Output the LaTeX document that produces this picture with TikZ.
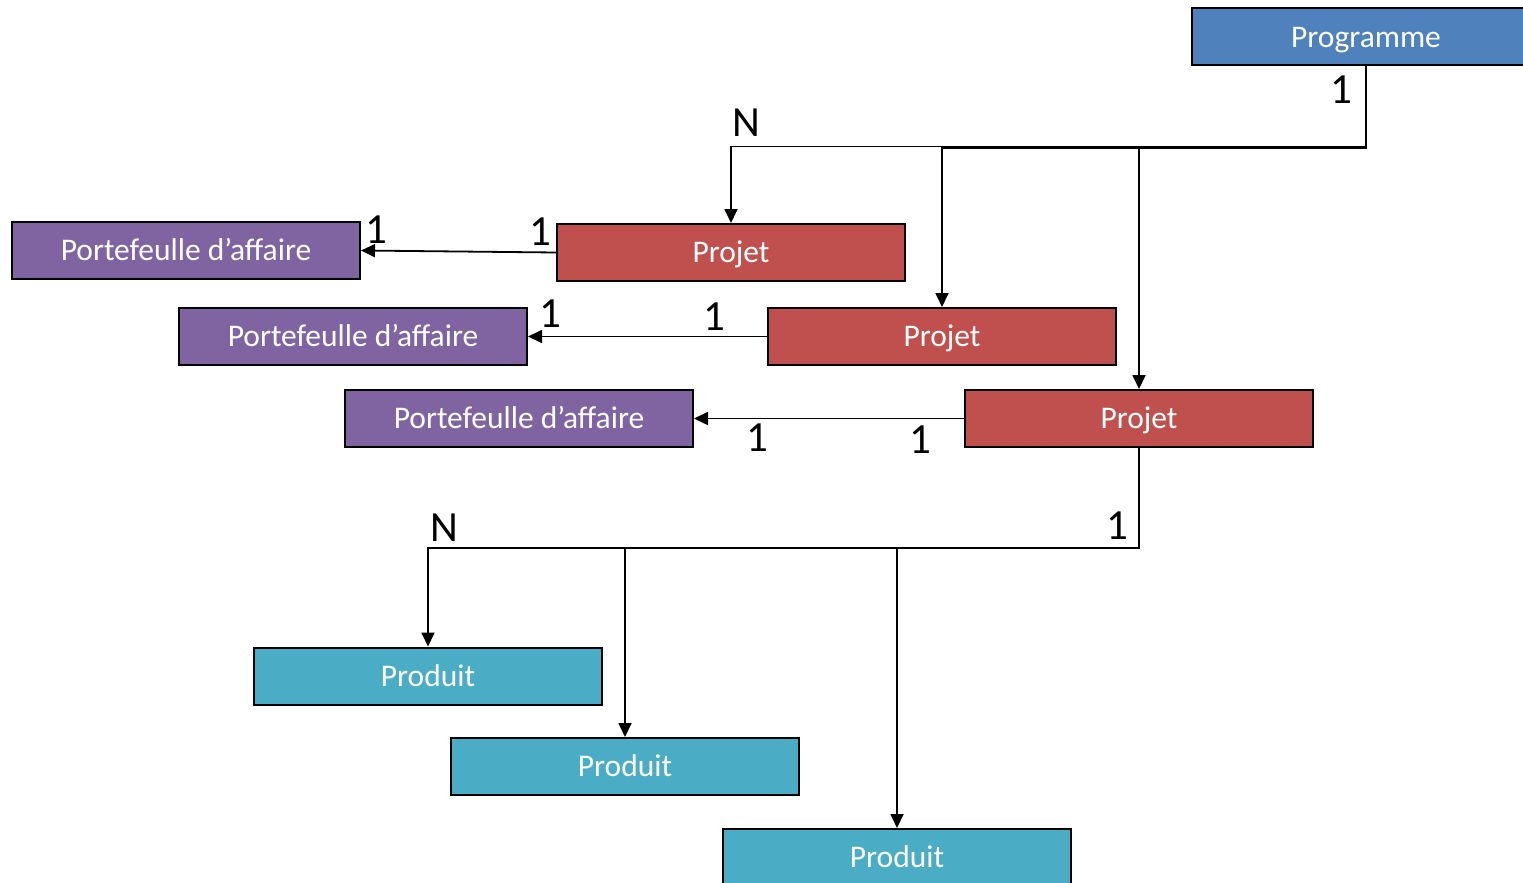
\documentclass[tikz,border=0pt]{standalone}
\usepackage{fontspec}
\setmainfont{Carlito}
\usetikzlibrary{arrows.meta}
\definecolor{progblue}{HTML}{4F81BD}
\definecolor{projred}{HTML}{C0504D}
\definecolor{portpurple}{HTML}{8064A2}
\definecolor{prodteal}{HTML}{4BACC6}
\tikzset{
  box/.style={draw=black, line width=2pt, minimum width=348pt, minimum height=57pt,
    inner sep=0pt, text=white, font=\fontsize{31.5}{36}\selectfont,
    text height=20.5pt, text depth=0pt, anchor=center},
  progbox/.style={box, fill=progblue},
  projbox/.style={box, fill=projred},
  portbox/.style={box, fill=portpurple},
  prodbox/.style={box, fill=prodteal},
  conn/.style={line width=1.8pt, -{Triangle[length=14pt,width=13pt]}},
  card/.style={inner sep=0pt, font=\fontsize{43}{48}\selectfont, anchor=center}
}
\begin{document}
\begin{tikzpicture}[x=1pt,y=-1pt]
\useasboundingbox (0,0) rectangle (1523,883);
\clip (0,0) rectangle (1523,883);
% boxes
\node[progbox] (prog) at (1366,37) {Programme};
\node[projbox] (pj1) at (731,252.5) {Projet};
\node[projbox] (pj2) at (942,336.5) {Projet};
\node[projbox] (pj3) at (1139,418.5) {Projet};
\node[portbox] (pf1) at (186,250.5) {Portefeulle d’affaire};
\node[portbox] (pf2) at (353,336.5) {Portefeulle d’affaire};
\node[portbox] (pf3) at (519,418.5) {Portefeulle d’affaire};
\node[prodbox] (pd1) at (428,676) {Produit};
\node[prodbox] (pd2) at (625,766.5) {Produit};
\node[prodbox] (pd3) at (897,857.5) {Produit};
% programme -> projets
\draw[conn] (prog.south) -- ++(0,80) -| (pj1.north);
\draw[conn] (prog.south) -- ++(0,81.2) -| (pj2.north);
\draw[conn] (prog.south) -- ++(0,81.2) -| (pj3.north);
% projet -> portefeuille
\draw[conn] (pj1.west) -- (pf1.east);
\draw[conn] (pj2.west) -- (pf2.east);
\draw[conn] (pj3.west) -- (pf3.east);
% projet -> produits
\draw[conn] (pj3.south) -- ++(0,100) -| (pd1.north);
\draw[conn] (pj3.south) -- ++(0,100) -| (pd2.north);
\draw[conn] (pj3.south) -- ++(0,100) -| (pd3.north);
% cardinalities
\node[card] (c0) at (1341,90) {1};
\node[card] (n0) at (746,123) {N};
\node[card] (c1a) at (376,230) {1};
\node[card] (c1b) at (540,232) {1};
\node[card] (c2a) at (550,314) {1};
\node[card] (c2b) at (714,317) {1};
\node[card] (c3a) at (757,438) {1};
\node[card] (c3b) at (920,440) {1};
\node[card] (n1) at (444,528) {N};
\node[card] (c4) at (1117,526) {1};
\end{tikzpicture}
\end{document}
